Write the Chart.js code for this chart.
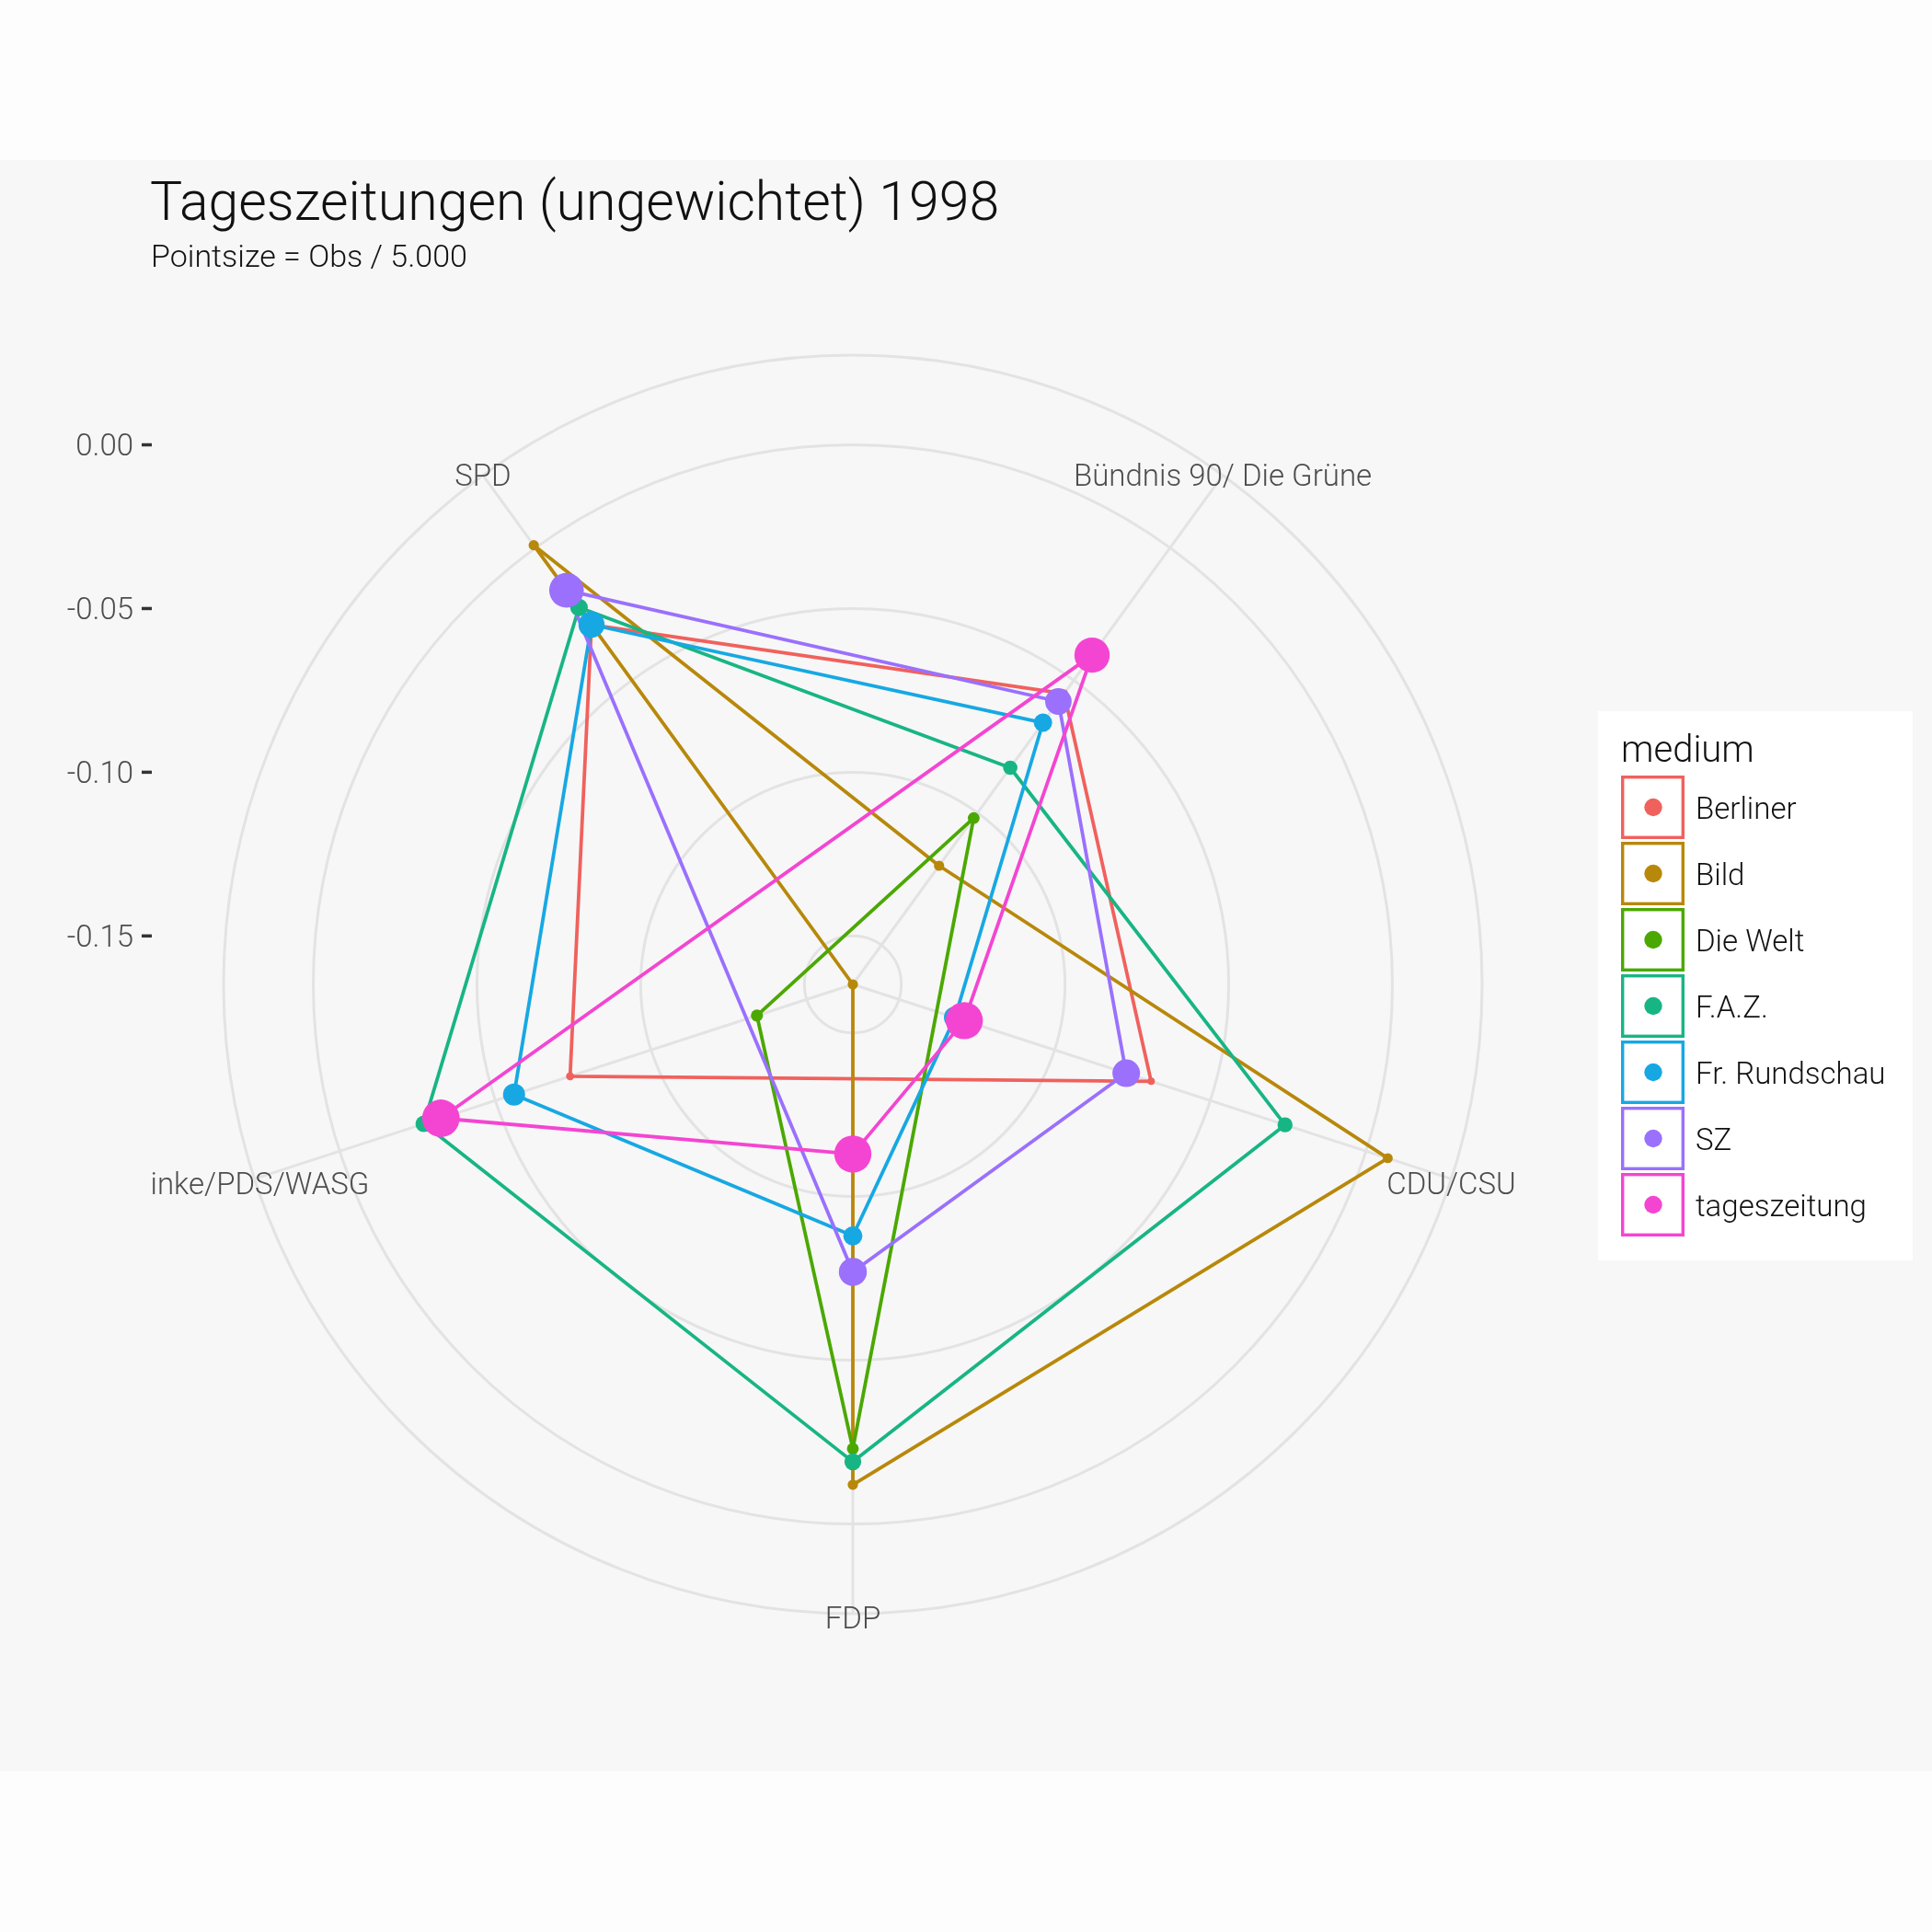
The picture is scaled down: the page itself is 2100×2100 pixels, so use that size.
<!DOCTYPE html>
<html>
<head>
<meta charset="utf-8">
<title>Tageszeitungen (ungewichtet) 1998</title>
<script src="https://cdn.jsdelivr.net/npm/chart.js@4.4.1/dist/chart.umd.min.js"></script>
<style>
  html, body { margin: 0; padding: 0; background: #fdfdfd; }
  canvas { display: block; }
</style>
</head>
<body>
<canvas id="radar" width="2100" height="2100"></canvas>
<script>
// Achsen (Parteien) im Uhrzeigersinn, SPD oben links
const parteien = ['SPD', 'Bündnis 90/ Die Grüne', 'CDU/CSU', 'FDP', 'inke/PDS/WASG'];
const medien = ['Berliner', 'Bild', 'Die Welt', 'F.A.Z.', 'Fr. Rundschau', 'SZ', 'tageszeitung'];

// Werte je Medium, null = keine Beobachtung
const berliner     = [-0.029, -0.055, -0.069, null, -0.074];
const bild         = [0.001, -0.120, 0.007, -0.012, -0.1648];
const dieWelt      = [null, -0.102, null, -0.023, -0.134];
const faz          = [-0.0225, -0.083, -0.026, -0.019, -0.027];
const frRundschau  = [-0.029, -0.066, -0.132, -0.088, -0.056];
const sz           = [-0.016, -0.058, -0.077, -0.077, null];
const tageszeitung = [null, -0.0405, -0.129, -0.113, -0.0325];

// Pointsize = Obs / 5.000
const obsBerliner     = [2.2, 2.2, 2.0, null, 2.2];
const obsBild         = [2.8, 2.8, 2.7, 2.8, 2.8];
const obsDieWelt      = [null, 3.2, null, 3.2, 3.3];
const obsFaz          = [4.8, 3.9, 4.1, 4.6, 4.5];
const obsFrRundschau  = [7.1, 5.0, 6.0, 5.2, 6.0];
const obsSz           = [9.4, 7.2, 7.5, 7.6, null];
const obsTageszeitung = [null, 9.6, 10.1, 10.1, 10.2];

const yTicks = [-0.15, -0.10, -0.05, 0.00];
const yTickLabels = ['-0.15', '-0.10', '-0.05', '0.00'];

const reihen = [berliner, bild, dieWelt, faz, frRundschau, sz, tageszeitung];
const groessen = [obsBerliner, obsBild, obsDieWelt, obsFaz, obsFrRundschau, obsSz, obsTageszeitung];
const farben = ['#F0615D', '#B8880A', '#4BA800', '#18B584', '#17A8E3', '#9A70FD', '#F445D2'];

const datasets = [];
medien.forEach(function (name, i) {
    // erst alle Linien, danach alle Punkte (wie ggplot)
    datasets.push({
        label: name,
        data: reihen[i],
        borderColor: farben[i],
        backgroundColor: 'transparent',
        borderWidth: 3.8,
        borderJoinStyle: 'round',
        borderCapStyle: 'round',
        fill: false,
        spanGaps: true,
        pointRadius: 0,
        pointHoverRadius: 0,
        order: 20 - i
    });
    datasets.push({
        label: name,
        data: reihen[i],
        showLine: false,
        fill: false,
        borderColor: 'transparent',
        backgroundColor: 'transparent',
        pointRadius: groessen[i].map(s => s === null ? 0 : s * 2),
        pointHoverRadius: groessen[i].map(s => s === null ? 0 : s * 2),
        pointBackgroundColor: farben[i],
        pointBorderColor: farben[i],
        pointBorderWidth: 0,
        order: 10 - i
    });
});

const dekoPlugin = {
    id: 'deko',
    beforeDraw(chart) {
        const ctx = chart.ctx;
        ctx.save();
        ctx.fillStyle = '#fdfdfd';
        ctx.fillRect(0, 0, chart.width, chart.height);
        ctx.fillStyle = '#f7f7f7';
        ctx.fillRect(0, 174, chart.width, 1751);

        ctx.fillStyle = '#111111';
        ctx.textAlign = 'left';
        ctx.textBaseline = 'alphabetic';
        ctx.font = '300 59px Roboto';
        ctx.fillText('Tageszeitungen (ungewichtet) 1998', 163, 239);
        ctx.font = '300 34px Roboto';
        ctx.fillText('Pointsize = Obs / 5.000', 164, 290);
        ctx.restore();
    },
    afterDraw(chart) {
        const ctx = chart.ctx;
        const r = chart.scales.r;
        ctx.save();

        // y-Achse links
        ctx.font = '300 33px Roboto';
        ctx.textBaseline = 'middle';
        ctx.textAlign = 'right';
        ctx.strokeStyle = '#333333';
        ctx.lineWidth = 3.5;
        yTicks.forEach(function (v, i) {
            const y = r.yCenter - r.getDistanceFromCenterForValue(v);
            ctx.fillStyle = '#4d4d4d';
            ctx.fillText(yTickLabels[i], 145, y + 3);
            ctx.beginPath();
            ctx.moveTo(154, y);
            ctx.lineTo(165, y);
            ctx.stroke();
        });

        // Achsenbeschriftung am aeusseren Kreis
        ctx.textAlign = 'center';
        ctx.fillStyle = '#4d4d4d';
        chart.data.labels.forEach(function (lab, i) {
            const p = r.getPointPositionForValue(i, r.max);
            const dy = p.y > r.yCenter ? 8 : 3;
            const dx = i === 4 ? 6 : 0;
            ctx.fillText(lab, p.x + dx, p.y + dy);
        });

        // Legende
        const lx = 1737, ly = 773;
        ctx.fillStyle = '#ffffff';
        ctx.fillRect(lx, ly, 342, 597);
        ctx.fillStyle = '#111111';
        ctx.textAlign = 'left';
        ctx.textBaseline = 'alphabetic';
        ctx.font = '300 40px Roboto';
        ctx.fillText('medium', 1762, 828);
        ctx.font = '300 33px Roboto';
        ctx.textBaseline = 'middle';
        medien.forEach(function (name, i) {
            const top = 843 + i * 72;
            ctx.fillStyle = '#ffffff';
            ctx.fillRect(1762, top, 69, 69);
            ctx.strokeStyle = farben[i];
            ctx.lineWidth = 3.4;
            ctx.strokeRect(1763.7, top + 1.7, 65.6, 65.6);
            ctx.fillStyle = farben[i];
            ctx.beginPath();
            ctx.arc(1797, top + 34.5, 9.7, 0, Math.PI * 2);
            ctx.fill();
            ctx.fillStyle = '#111111';
            ctx.fillText(name, 1843, top + 39);
        });
        ctx.restore();
    }
};

const ctx = document.getElementById('radar').getContext('2d');
new Chart(ctx, {
    type: 'radar',
    data: {
        labels: parteien,
        datasets: datasets
    },
    options: {
        responsive: false,
        animation: false,
        devicePixelRatio: 1,
        events: [],
        layout: {
            padding: { left: 243, right: 489, top: 386, bottom: 346 }
        },
        scales: {
            r: {
                min: -0.1648,
                max: 0.0274,
                startAngle: -36,
                afterBuildTicks: function (scale) {
                    scale.ticks = yTicks.map(v => ({ value: v })).concat([{ value: scale.max }]);
                },
                ticks: { display: false },
                pointLabels: { display: false },
                grid: { circular: true, color: '#e3e3e3', lineWidth: 3 },
                angleLines: { color: '#e3e3e3', lineWidth: 3 }
            }
        },
        plugins: {
            legend: { display: false },
            title: { display: false },
            tooltip: { enabled: false }
        }
    },
    plugins: [dekoPlugin]
});
</script>
</body>
</html>
